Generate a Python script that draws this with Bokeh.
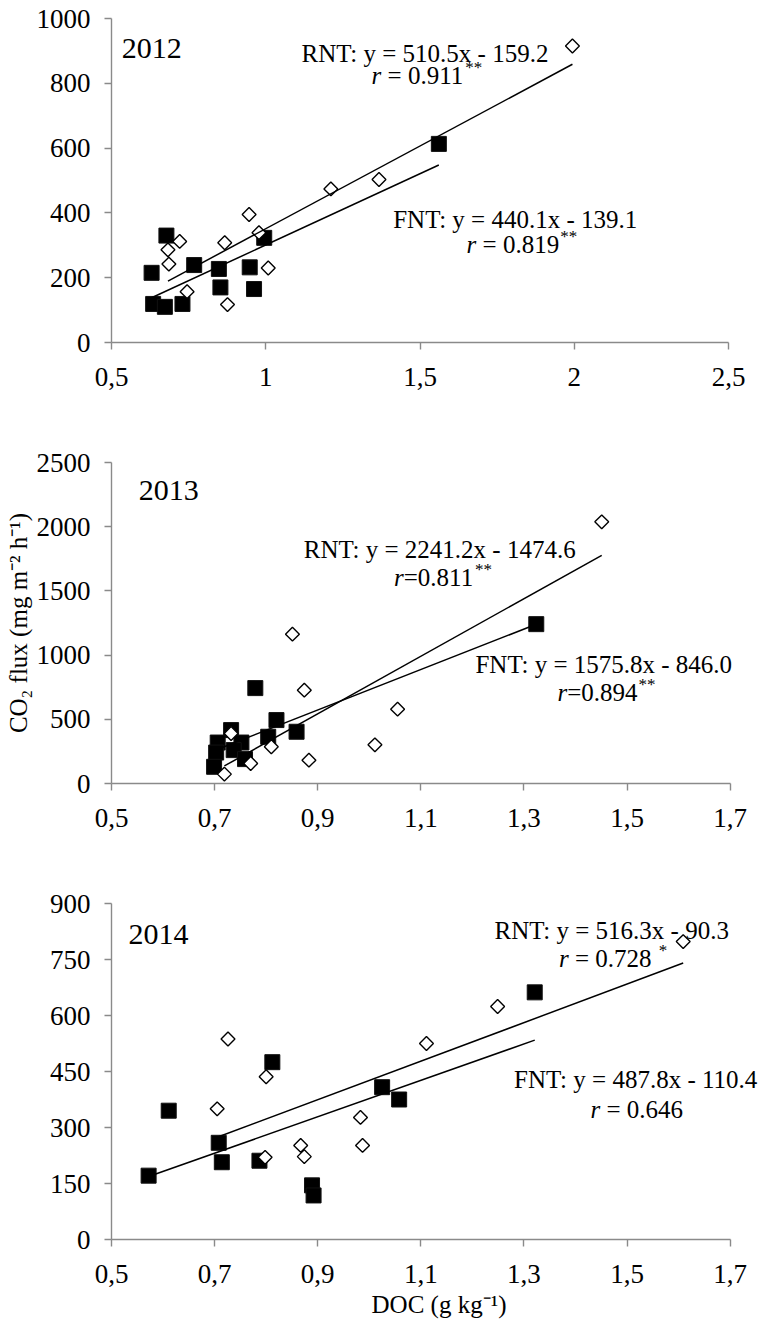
import numpy as np
from bokeh.plotting import figure
from bokeh.layouts import column
from bokeh.models import Range1d, FixedTicker, Label
from bokeh.embed import file_html
from bokeh.resources import INLINE

# ---------------- data ----------------
# 2012
doc_fnt_2012 = [0.630, 0.678, 0.635, 0.673, 0.730, 0.768, 0.848, 0.853, 0.948, 0.962, 0.995, 1.561]
flux_fnt_2012 = [215, 330, 119, 110, 119, 239, 227, 170, 232, 165, 323, 613]
doc_rnt_2012 = [0.683, 0.686, 0.721, 0.745, 0.867, 0.876, 0.946, 0.978, 1.008, 1.211, 1.367, 1.994]
flux_rnt_2012 = [286, 242, 312, 157, 308, 117, 395, 339, 230, 474, 503, 915]
# 2013
doc_fnt_2013 = [0.779, 0.820, 0.859, 0.732, 0.804, 0.706, 0.752, 0.703, 0.737, 0.759, 0.699, 1.324]
flux_fnt_2013 = [743, 494, 403, 416, 364, 319, 319, 241, 260, 190, 130, 1241]
doc_rnt_2013 = [0.851, 0.874, 1.055, 1.011, 0.883, 0.810, 0.770, 0.719, 0.732, 1.451]
flux_rnt_2013 = [1163, 727, 579, 301, 182, 286, 156, 73, 389, 2038]
# 2014
doc_fnt_2014 = [0.572, 0.611, 0.708, 0.714, 0.787, 0.812, 0.889, 0.892, 1.025, 1.058, 1.321]
flux_fnt_2014 = [171, 345, 259, 207, 211, 475, 145, 118, 408, 375, 662]
doc_rnt_2014 = [0.726, 0.800, 0.705, 0.798, 0.867, 0.874, 0.983, 0.987, 1.111, 1.249, 1.609]
flux_rnt_2014 = [537, 436, 350, 220, 252, 222, 327, 252, 525, 624, 798]

years = ["2012", "2013", "2014"]
rnt_slope = [510.5, 2241.2, 516.3]
rnt_intercept = [-159.2, -1474.6, -90.3]
fnt_slope = [440.1, 1575.8, 487.8]
fnt_intercept = [-139.1, -846.0, -110.4]
rnt_r = ["0.911", "0.811", "0.728"]
fnt_r = ["0.819", "0.894", "0.646"]
rnt_sig = ["**", "**", " *"]
fnt_sig = ["**", "**", ""]
r_sep = [" = ", "=", " = "]

x_ticks_2012 = [0.5, 1, 1.5, 2, 2.5]
x_labels_2012 = ["0,5", "1", "1,5", "2", "2,5"]
x_ticks_1314 = [0.5, 0.7, 0.9, 1.1, 1.3, 1.5, 1.7]
x_labels_1314 = ["0,5", "0,7", "0,9", "1,1", "1,3", "1,5", "1,7"]
y_ticks_2012 = [0, 200, 400, 600, 800, 1000]
y_ticks_2013 = [0, 500, 1000, 1500, 2000, 2500]
y_ticks_2014 = [0, 150, 300, 450, 600, 750, 900]

y_axis_title = "CO\u2082 flux (mg m\u207b\u00b2 h\u207b\u00b9)"
x_axis_title = "DOC (g kg\u207b\u00b9)"

# ---------------- styling / layout ----------------
FONT = "Liberation Serif"
AX_COL = "#8a8a8a"
TXT = "25px"
CW = {".": 0.25, " ": 0.25, "=": 0.564, "*": 0.5}


def tw(s, size):
    return sum(CW.get(c, 0.5) for c in s) * size


def make_panel(height, top, bottom, xr, xb, yr, xt, xl, yt):
    p = figure(width=766, height=height, x_range=Range1d(*xr), y_range=Range1d(*yr),
               output_backend="svg", toolbar_location=None,
               min_border_left=111, min_border_right=0,
               min_border_top=top, min_border_bottom=bottom,
               background_fill_color="white", border_fill_color="white")
    p.outline_line_color = None
    p.xgrid.visible = False
    p.ygrid.visible = False
    for ax in (p.xaxis[0], p.yaxis[0]):
        ax.axis_line_color = AX_COL
        ax.axis_line_width = 1.4
        ax.major_tick_line_color = AX_COL
        ax.major_tick_line_width = 1.4
        ax.major_tick_out = 7
        ax.major_tick_in = 0
        ax.minor_tick_line_color = None
        ax.major_label_text_font = FONT
        ax.major_label_text_font_size = "27px"
        ax.major_label_text_color = "black"
        ax.axis_label_text_font = FONT
        ax.axis_label_text_font_size = TXT
        ax.axis_label_text_font_style = "normal"
        ax.axis_label_text_color = "black"
    p.xaxis[0].bounds = xb
    p.xaxis[0].ticker = FixedTicker(ticks=xt)
    p.xaxis[0].major_label_overrides = dict(zip(xt, xl))
    p.xaxis[0].major_label_standoff = 18
    p.yaxis[0].ticker = FixedTicker(ticks=yt)
    p.yaxis[0].major_label_standoff = 14
    return p


def add_points(p, xf, yf, xr_, yr_):
    p.scatter(xf, yf, marker="square", size=15, fill_color="black", line_color="#111111", line_width=1)
    p.scatter(xr_, yr_, marker="square", angle=np.pi / 4, size=9.8, fill_color="white",
              line_color="black", line_width=1.4)


def add_line(p, xs, slope, icpt):
    x0, x1 = min(xs), max(xs)
    p.line([x0, x1], [slope * x0 + icpt, slope * x1 + icpt], line_color="black", line_width=1.5)


def eq_text(name, slope, icpt):
    sign = "-" if icpt < 0 else "+"
    return f"{name}: y = {slope:.1f}x {sign} {abs(icpt):.1f}"


def lab(p, x, y, text, size=TXT, style="normal", xo=0, yo=0):
    p.add_layout(Label(x=x, y=y, text=text, text_font=FONT, text_font_size=size,
                       text_font_style=style, text_align="left", text_baseline="alphabetic",
                       x_offset=xo, y_offset=yo, text_color="black"))


def r_line(p, x, y, sep, rval, sig):
    lab(p, x, y, "r", style="italic")
    w_r = 0.389 * 25
    body = sep + rval
    lead = tw(body[: len(body) - len(body.lstrip())], 25)
    lab(p, x, y, body.lstrip(), xo=w_r + lead)
    if sig:
        s_lead = tw(sig[: len(sig) - len(sig.lstrip())], 25)
        lab(p, x, y, sig.lstrip(), size="17px", xo=w_r + tw(body, 25) + 1 + s_lead, yo=8)


panels = [
    dict(h=420, top=18, bot=78, xr=(0.5, 2.623), xb=(0.5, 2.5), yr=(0, 1000), xt=x_ticks_2012, xl=x_labels_2012,
         yt=y_ticks_2012, f=(doc_fnt_2012, flux_fnt_2012), r=(doc_rnt_2012, flux_rnt_2012),
         pos=dict(year=(0.533, 907), rnt=(1.116, 891), rnt_r=(1.343, 824), fnt=(1.413, 381), fnt_r=(1.651, 304))),
    dict(h=440, top=42, bot=77, xr=(0.5, 1.7706), xb=(0.5, 1.7), yr=(0, 2500), xt=x_ticks_1314, xl=x_labels_1314,
         yt=y_ticks_2013, f=(doc_fnt_2013, flux_fnt_2013), r=(doc_rnt_2013, flux_rnt_2013),
         pos=dict(year=(0.553, 2280), rnt=(0.873, 1825), rnt_r=(1.048, 1604), fnt=(1.206, 924), fnt_r=(1.365, 709))),
    dict(h=467, top=43, bot=88, xr=(0.5, 1.7706), xb=(0.5, 1.7), yr=(0, 900), xt=x_ticks_1314, xl=x_labels_1314,
         yt=y_ticks_2014, f=(doc_fnt_2014, flux_fnt_2014), r=(doc_rnt_2014, flux_rnt_2014),
         pos=dict(year=(0.533, 818), rnt=(1.243, 829), rnt_r=(1.368, 754), fnt=(1.281, 428), fnt_r=(1.429, 347))),
]

figs = []
for i, cfg in enumerate(panels):
    p = make_panel(cfg["h"], cfg["top"], cfg["bot"], cfg["xr"], cfg["xb"], cfg["yr"], cfg["xt"], cfg["xl"], cfg["yt"])
    xf, yf = cfg["f"]
    xr_, yr_ = cfg["r"]
    add_points(p, xf, yf, xr_, yr_)
    add_line(p, xr_, rnt_slope[i], rnt_intercept[i])
    add_line(p, xf, fnt_slope[i], fnt_intercept[i])
    pos = cfg["pos"]
    lab(p, *pos["year"], years[i], size="30px")
    lab(p, *pos["rnt"], eq_text("RNT", rnt_slope[i], rnt_intercept[i]))
    r_line(p, *pos["rnt_r"], r_sep[i], rnt_r[i], rnt_sig[i])
    lab(p, *pos["fnt"], eq_text("FNT", fnt_slope[i], fnt_intercept[i]))
    r_line(p, *pos["fnt_r"], r_sep[i], fnt_r[i], fnt_sig[i])
    figs.append(p)

figs[1].yaxis[0].axis_label = y_axis_title
figs[1].yaxis[0].axis_label_standoff = 2
figs[2].xaxis[0].axis_label = x_axis_title
figs[2].xaxis[0].axis_label_standoff = 5

layout = column(*figs, spacing=0)
open("out.html", "w").write(file_html(layout, INLINE))
